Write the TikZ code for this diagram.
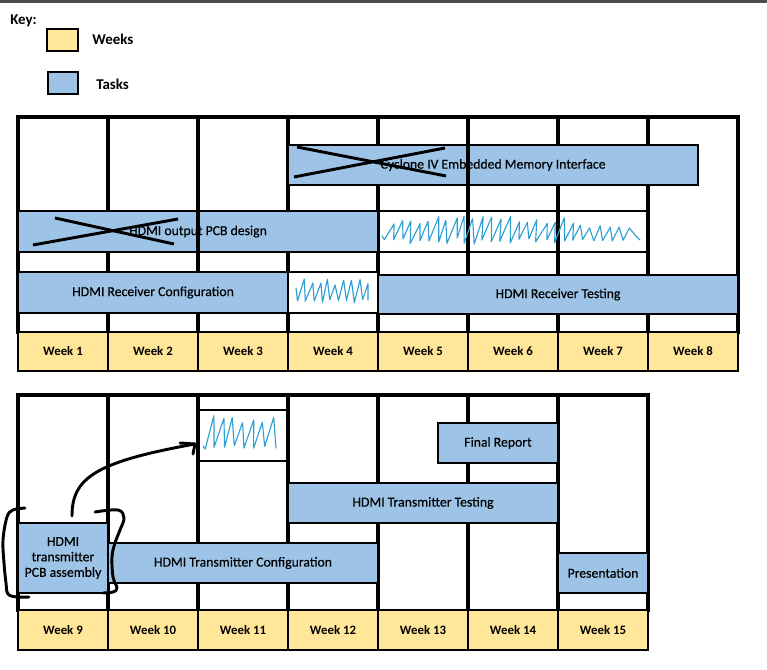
\documentclass[tikz,border=0pt]{standalone}
\usepackage{fontspec}
\setmainfont{Carlito}
\newfontfamily\taskfont{Carlito}[FakeBold=0.35]
\usetikzlibrary{arrows.meta,calc}
\definecolor{taskblue}{HTML}{9DC3E6}
\definecolor{weekyellow}{HTML}{FFE699}
\definecolor{scribblecol}{HTML}{2E9FD3}
\begin{document}
\begin{tikzpicture}[x=0.75pt,y=-0.75pt,
  boxsize/.style 2 args={minimum width=#1*0.75pt, minimum height=#2*0.75pt},
  task/.style={draw=black, line width=1.5pt, fill=taskblue, inner sep=0pt,
    align=center, font=\taskfont\fontsize{10.3}{12}\selectfont},
  week/.style={draw=black, line width=1.1pt, fill=weekyellow, inner sep=0pt,
    font=\bfseries\fontsize{9.6}{11}\selectfont},
  keybox/.style={draw=black, line width=1.6pt, inner sep=0pt},
  keytext/.style={inner sep=0pt, font=\bfseries\fontsize{11.2}{13}\selectfont},
  gridline/.style={line width=2.3pt, line cap=rect},
  boxline/.style={line width=2.2pt},
  crossline/.style={line width=2.2pt},
  handline/.style={line width=2.2pt, line cap=round, line join=round},
  scribble/.style={draw=scribblecol, line width=0.85pt, line join=round, line cap=round}]
\useasboundingbox (0,0) rectangle (767,670);
\fill[black!70] (0,0) rectangle (767,3);

% key
\node[keytext, anchor=base west] (keytitle) at (10,25) {Key:};
\node[keybox, fill=weekyellow, boxsize={31}{22}] (keyweek) at (62.5,40) {};
\node[keytext, anchor=base west] (keyweeklbl) at (92,45) {Weeks};
\node[keybox, fill=taskblue, boxsize={30}{22}] (keytask) at (63,83) {};
\node[keytext, anchor=base west] (keytasklbl) at (96,90) {Tasks};

% ---------- weeks 1-8 ----------
\draw[gridline] (18,117) -- (738,117);
\foreach \x in {18,108,...,738} \draw[gridline] (\x,117) -- (\x,332);

\node[task, boxsize={410}{40}] (cyclone) at (493,165) {Cyclone IV Embedded Memory Interface};
\node[task, boxsize={360}{41}] (pcbdesign) at (198,231.5) {HDMI output PCB design};
\node[draw=black, boxline, inner sep=0pt, boxsize={270}{41}] (scrA) at (513,231.5) {};
\node[task, boxsize={270}{40}] (rxconf) at (153,292.5) {HDMI Receiver Configuration};
\node[draw=black, boxline, fill=white, inner sep=0pt, boxsize={90}{41}] (scrB) at (333,292.5) {};
\node[task, boxsize={360}{39}] (rxtest) at (558,294.5) {HDMI Receiver Testing};

\draw[gridline] (198,211) -- (198,252);
\draw[gridline] (468,145) -- (468,185);

\foreach \i in {1,...,8}
  \node[week, boxsize={90}{39}] (wk\i) at ({90*\i-27},351.5) {Week \i};

% crossed-out tasks
\draw[crossline] (55,218) -- (174,244);
\draw[crossline] (33,245) -- (178,219);
\draw[crossline] (297,147) -- (446,176);
\draw[crossline] (294,177) -- (445,148);

% ---------- weeks 9-15 ----------
\draw[gridline] (18,395) -- (648,395);
\foreach \x in {18,108,...,648} \draw[gridline] (\x,395) -- (\x,610);

\node[task, boxsize={120}{40}] (report) at (498,443) {Final Report};
\node[task, boxsize={270}{40}] (txtest) at (423,503) {HDMI Transmitter Testing};
\node[task, boxsize={270}{40}] (txconf) at (243,563) {HDMI Transmitter Configuration};
\node[task, boxsize={90}{70}, font=\taskfont\fontsize{10.3}{11.6}\selectfont] (pcbasm) at (63,558) {HDMI\\transmitter\\PCB assembly};
\node[task, boxsize={90}{40}] (present) at (603,573) {Presentation};

\node[inner sep=0pt, outer sep=0pt, boxsize={90}{51}] (scrC) at (243,435.5) {};
\draw[boxline] (scrC.north west) -- (scrC.north east);
\draw[boxline] (scrC.south west) -- (scrC.south east);

\foreach \i in {9,...,15}
  \node[week, boxsize={90}{40}] (wk\i) at ({90*(\i-9)+63},630) {Week \i};

% scribbled-out cells
\pgfmathsetseed{7}
\draw[scribble] (382,236)
  \foreach \i in {0,...,20}{ -- ({384+9*\i+1.5*rand},{241+3*rand}) -- ({393+9*\i+1.5*rand},{220+4*rand}) }
  \foreach \i in {0,...,5}{ -- ({573+10*\i+rand},{240+rand}) -- ({580+10*\i+rand},{227+2*rand}) }
  -- (636,236) -- (640,240);
\draw[scribble] (296,288)
  \foreach \i in {0,...,8}{ -- ({298+8*\i+rand},{301+2*rand}) -- ({304+8*\i+rand},{282+3*rand}) }
  -- (368,300);
\draw[scribble] (203,446)
  \foreach \i in {0,...,6}{ -- ({204+10*\i+1.5*rand},{447+2*rand}) -- ({213+10*\i+rand},{419+4*rand}) }
  -- (276,448);

% brackets round the assembly task
\draw[handline] plot[smooth, tension=0.6] coordinates
  {(25,508) (13,510) (7,517) (3,540) (4,563) (6,583) (8,594) (17,597) (29,597)};
\draw[handline] plot[smooth, tension=0.6] coordinates
  {(95,512) (118,510) (124,518) (120,530) (115,543) (112,557) (113,577) (117,588) (113,592) (103,593)};

% moved task
\coordinate (tip) at ($(scrC.west)+(-3,8.5)$);
\draw[handline] ($(pcbasm.north)+(9,-6)$) .. controls (72,478) and (95,462) .. (tip);
\draw[handline] ($(tip)+(-15,-1)$) -- (tip) -- ($(tip)+(-2,10)$);
\end{tikzpicture}
\end{document}
